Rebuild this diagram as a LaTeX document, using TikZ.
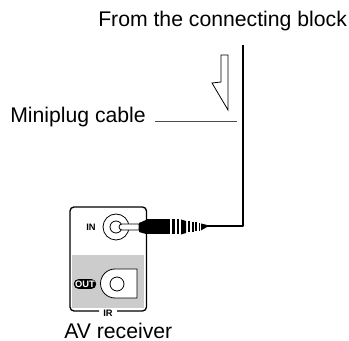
\documentclass[tikz,border=0pt]{standalone}
\usepackage{fontspec}
\setmainfont{Liberation Sans}
\tikzset{
  lbl/.style={inner sep=0pt,anchor=base west,font=\fontsize{15.9pt}{18pt}\selectfont},
  small/.style={inner sep=0pt,font=\bfseries\fontsize{7pt}{8pt}\selectfont},
  ln/.style={line width=0.6pt,black},
  cable/.style={line width=1.5pt,black,line join=round},
  leader/.style={line width=0.5pt,black!70}
}
\begin{document}
\begin{tikzpicture}[x=0.75pt,y=-0.75pt]
\useasboundingbox (0,0) rectangle (349,341);
\node[lbl] (from) at (98,27) {From the connecting block};
\node[lbl] (mini) at (10,123) {Miniplug cable};
\node[lbl] (av) at (64,338) {AV receiver};
% cable
\coordinate (cabletop) at (243,45);
\coordinate (cablecorner) at (243,226);
\coordinate (cableend) at (205,226);
\draw[cable] (cabletop) -- (cablecorner) -- (cableend);
% leader
\coordinate (leaderL) at (155,121);
\coordinate (leaderR) at (237,121);
\draw[leader] (leaderL) -- (leaderR);
% arrow
\draw[ln,fill=white,line join=miter] (221,55) -- (228,55) -- (228,110) -- (212,83) -- (221,82) -- cycle;
% receiver panel
\fill[black!20] (72,255) rectangle (144,308);
\draw[line width=1pt,rounded corners=3pt] (99,311) -| (70,207) -| (146.5,311) -- (117,311);
\node[small] (ir) at (108,313) {IR};
\node[small] (in) at (91,227) {IN};
% OUT
\node[fill=black,text=white,rounded corners=3.5pt,inner xsep=1pt,inner ysep=1.2pt,font=\bfseries\fontsize{7pt}{8pt}\selectfont] (out) at (85,284) {OUT};
\draw[ln,fill=white] (137,269) -- (115,269) arc[start angle=270,end angle=90,radius=14.5] -- (137,298) -- cycle;
\draw[ln,fill=white] (117,284) circle[radius=7];
% IN jack
\draw[ln,fill=white] (116,227) circle[radius=13];
\draw[ln,fill=white] (116,227) circle[radius=6];
% plug
\draw[ln,fill=white] (139,224) -- (122,224) arc[start angle=270,end angle=90,radius=3] -- (139,230) -- cycle;
\fill[black] (139,223) -- (146,220) -- (146,234) -- (139,232) -- cycle;
\fill[black] (146,219.5) rectangle (170,234.5);
\fill[black] (172,219.5) rectangle (175,234.5);
\fill[black] (177,219.5) rectangle (179,234.5);
\fill[black] (181,219.5) -- (186,221) -- (186,233) -- (181,234.5) -- cycle;
\fill[black] (188,221.5) rectangle (190,232.5);
\fill[black] (191.5,222) rectangle (193.5,232);
\fill[black] (195,222.5) rectangle (197,231.5);
\fill[black] (198.5,223) rectangle (200,231);
\fill[black] (201,223.5) -- (207,225) -- (207,227) -- (201,230.5) -- cycle;
\end{tikzpicture}
\end{document}
